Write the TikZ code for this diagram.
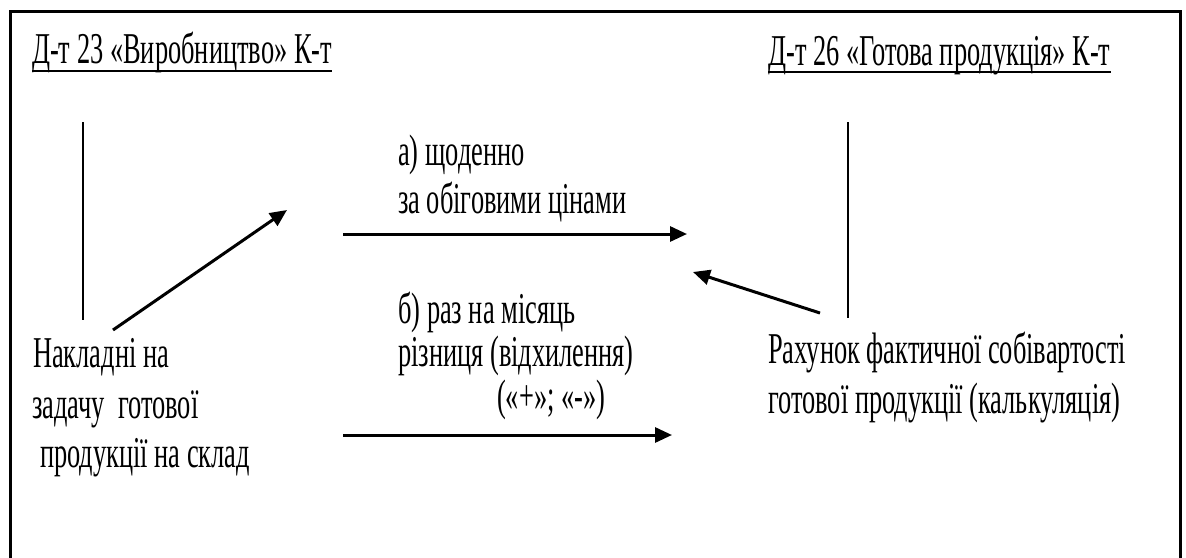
\documentclass[tikz,border=0pt]{standalone}
\usepackage{fontspec}
\usepackage{graphicx}
\usetikzlibrary{arrows.meta}
\setmainfont{Liberation Serif}
\newcommand\sqz[1]{\scalebox{0.60}[1]{#1}}
\begin{document}
\begin{tikzpicture}[x=1pt,y=-1pt,
  txt/.style={anchor=base west,inner sep=0pt,font=\rmfamily\fontsize{44}{50}\selectfont},
  arr/.style={line width=3pt,-{Triangle[length=17pt,width=15pt]}},
  tline/.style={line width=1.3pt}]
\useasboundingbox (0,0) rectangle (1186,557);
\fill[white] (0,0) rectangle (1186,557);
\draw[line width=3pt] (10.5,11.5) rectangle (1180.5,575);
% titles
\node[txt] (t1) at (32,63) {\sqz{Д-т 23 «Виробництво» К-т}};
\node[txt] (t2) at (768,65) {\sqz{Д-т 26 «Готова продукція» К-т}};
\draw[line width=1.5pt] ([yshift=-8pt]t1.base west) -- ([yshift=-8pt]t1.base east);
\draw[line width=1.5pt] ([yshift=-7pt]t2.base west) -- ([yshift=-7pt]t2.base east);
% T-account lines
\coordinate (l1) at (83,122); \coordinate (l2) at (83,320);
\coordinate (r1) at (848,122); \coordinate (r2) at (848,318);
\draw[tline] (l1) -- (l2);
\draw[tline] (r1) -- (r2);
% left text
\node[txt] (n1) at (33,367) {\sqz{Накладні на}};
\node[txt] (n2) at (32,418) {\sqz{задачу\ \ готової}};
\node[txt] (n3) at (40,467) {\sqz{продукції на склад}};
% middle text
\node[txt] (a1) at (398,165) {\sqz{а) щоденно}};
\node[txt] (a2) at (398,213) {\sqz{за обіговими цінами}};
\node[txt] (b1) at (398,323) {\sqz{б) раз на місяць}};
\node[txt] (b2) at (398,366) {\sqz{різниця (відхилення)}};
\node[txt] (b3) at (497,410) {\sqz{(«+»; «-»)}};
% right text
\node[txt] (r1t) at (768,363) {\sqz{Рахунок фактичної собівартості}};
\node[txt] (r2t) at (768,413) {\sqz{готової продукції (калькуляція)}};
% arrows
\coordinate (d1) at (113,330); \coordinate (d2) at (287,210);
\coordinate (h1) at (343,234); \coordinate (h2) at (687,234);
\coordinate (g1) at (343,435); \coordinate (g2) at (672,435);
\coordinate (k1) at (820,313); \coordinate (k2) at (693,272);
\draw[arr] (d1) -- (d2);
\draw[arr] (h1) -- (h2);
\draw[arr] (g1) -- (g2);
\draw[arr] (k1) -- (k2);
\end{tikzpicture}
\end{document}
